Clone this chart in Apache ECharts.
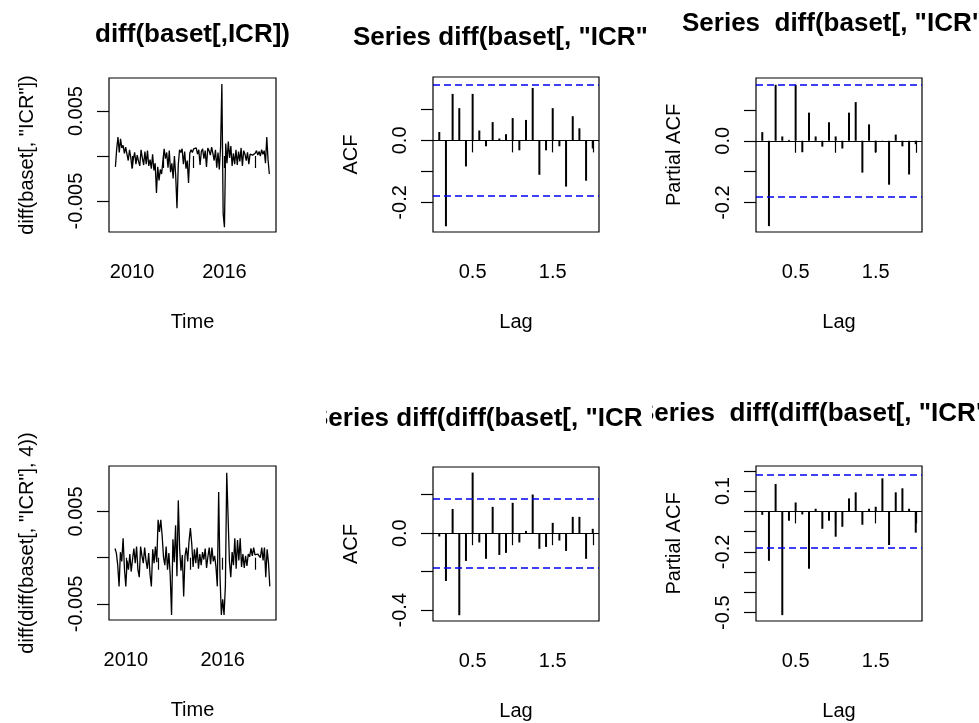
<!DOCTYPE html>
<html>
<head>
<meta charset="utf-8">
<title>diff(baset[,ICR]) ACF / PACF</title>
<script src="https://cdn.jsdelivr.net/npm/echarts@6/dist/echarts.min.js"></script>
<style>
  html, body { margin: 0; padding: 0; background: #fff; }
  #chart { width: 979px; height: 723px; }
</style>
</head>
<body>
<div id="chart"></div>
<script>
// monthly ts, first obs Dec 2008
const icrStart = 2008 + 11 / 12
const icrDiff = [
  -0.0012, 0.0008, 0.0021, 0.0004, 0.0019, 0.0009, 0.0012, 0.0003, 0.0010, 0.0002,
  -0.0005, 0.0007, -0.0002, -0.0014, -0.0003, 0.0004, -0.0009, 0.0001, -0.0006, -0.0011,
  0.0007, -0.0002, -0.0010, 0.0005, -0.0009, 0.0006, -0.0011, -0.0004, -0.0014, 0.0002,
  -0.0016, -0.0008, -0.0041, -0.0012, -0.0027, -0.0015, -0.0020, -0.0006, 0.0008, -0.0003,
  0.0004, -0.0013, 0.0006, -0.0018, -0.0008, -0.0025, 0.0000, -0.0022, -0.0058, -0.0010,
  0.0007, 0.0004, 0.0008, -0.0009, 0.0005, -0.0014, -0.0005, -0.0030, 0.0003, 0.0007,
  0.0004, 0.0008, 0.0006, 0.0009, 0.0002, 0.0007, -0.0010, 0.0005, 0.0008, -0.0003,
  0.0006, -0.0012, 0.0009, 0.0006, 0.0001, 0.0010, 0.0003, -0.0005, 0.0007, -0.0013,
  0.0004, -0.0015, 0.0010, 0.0080, -0.0064, -0.0079, 0.0014, -0.0008, 0.0016, -0.0002,
  0.0011, -0.0011, 0.0003, -0.0009, 0.0007, -0.0010, 0.0005, -0.0006, 0.0009, -0.0011,
  0.0006, 0.0002, -0.0005, 0.0004, -0.0009, 0.0002, 0.0000, 0.0001, 0.0000, 0.0003,
  0.0006, 0.0001, 0.0005, 0.0000, 0.0007, 0.0002, 0.0006, -0.0008, 0.0021, -0.0004,
  -0.0020
]

// diff(diff(x, 4)) starts 5 months later
const icrDiff2Start = 2009 + 4 / 12
const icrDiff2 = [
  0.0010, 0.0005, -0.0008, -0.0031, 0.0006, -0.0004, 0.0021, -0.0012, -0.0031, -0.0003,
  -0.0013, 0.0004, -0.0015, -0.0002, 0.0010, -0.0006, 0.0012, -0.0013, -0.0021, 0.0012,
  0.0002, -0.0006, 0.0011, -0.0003, -0.0012, 0.0005, -0.0018, -0.0031, 0.0009, -0.0006,
  0.0012, -0.0005, 0.0041, 0.0028, 0.0041, 0.0024, 0.0001, -0.0008, 0.0012, -0.0013,
  0.0005, -0.0019, -0.0062, 0.0020, -0.0005, 0.0035, -0.0020, 0.0062, 0.0010, -0.0014,
  0.0003, -0.0042, 0.0002, 0.0011, -0.0004, 0.0018, 0.0032, 0.0015, -0.0010, 0.0009,
  -0.0006, 0.0011, -0.0012, 0.0004, -0.0008, 0.0006, -0.0002, 0.0010, -0.0011, 0.0001,
  0.0011, -0.0007, 0.0011, -0.0004, 0.0002, -0.0010, -0.0031, 0.0071, -0.0020, -0.0062,
  -0.0045, -0.0062, -0.0030, 0.0092, 0.0044, -0.0004, -0.0021, 0.0006, -0.0008, 0.0021,
  -0.0012, 0.0019, -0.0003, 0.0021, -0.0010, 0.0004, -0.0011, 0.0002, -0.0009, 0.0004,
  0.0001, 0.0010, 0.0002, 0.0011, 0.0003, 0.0003, 0.0004, 0.0004, 0.0000, 0.0011,
  -0.0003, 0.0011, -0.0021, 0.0009, -0.0005, -0.0031
]

// lags 1..24 (in years, frequency 12)
const acfDiff = [0.027, -0.277, 0.150, 0.104, -0.084, 0.150, 0.032, -0.019, 0.059, 0.006, 0.020, 0.072,
  -0.032, 0.066, 0.169, -0.111, -0.032, 0.104, -0.019, -0.149, 0.078, 0.039, -0.130, -0.026]
const pacfDiff = [0.028, -0.276, 0.181, 0.014, 0.003, 0.181, -0.037, 0.091, 0.014, -0.019, 0.060, 0.014,
  -0.025, 0.091, 0.125, -0.103, 0.053, -0.037, -0.003, -0.142, 0.020, -0.018, -0.109, -0.011]
const acfDiff2 = [-0.017, -0.248, 0.126, -0.426, -0.144, 0.315, -0.048, -0.133, 0.137, -0.113, -0.102, 0.158,
  -0.048, 0.012, 0.201, -0.081, -0.071, 0.054, -0.038, -0.092, 0.085, 0.085, -0.133, 0.023]
const pacfDiff2 = [-0.017, -0.244, 0.135, -0.512, -0.046, 0.044, -0.015, -0.283, 0.013, -0.086, -0.046, -0.125,
  -0.076, 0.064, 0.094, -0.066, 0.013, 0.023, 0.163, -0.166, 0.094, 0.114, 0.013, -0.105]

const yearTicks = [2010, 2012, 2014, 2016, 2018]
const yearLabels = [2010, 2016]
const lagTicks = [0.5, 1, 1.5, 2]
const lagLabels = [0.5, 1.5]

const font = '"Liberation Sans", Arial, Helvetica, sans-serif'
const axisText = { fontFamily: font, fontSize: 20, color: '#000' }

const monthly = (start, values) => values.map((v, i) => [start + i / 12, v])
const lagged = values => values.map((v, i) => [(i + 1) / 12, v])
const ciOf = n => 1.959964 / Math.sqrt(n)
const fmtTs = v => String(v)
const fmtAcf = v => v.toFixed(1)

const panels = [
  { box: [109, 78, 167, 154], x: [2008.5, 2019.35], y: [-0.00844, 0.00867],
    xTicks: yearTicks, xLabels: yearLabels, yTicks: [-0.005, 0, 0.005], yLabels: [-0.005, 0.005], fmt: fmtTs,
    xName: 'Time', yName: 'diff(baset[, "ICR"])', line: monthly(icrStart, icrDiff) },
  { box: [433, 77, 166, 155], x: [0.005, 2.078], y: [-0.2955, 0.2045],
    xTicks: lagTicks, xLabels: lagLabels, yTicks: [-0.2, -0.1, 0, 0.1], yLabels: [-0.2, 0], fmt: fmtAcf,
    xName: 'Lag', yName: 'ACF', bars: lagged(acfDiff), ci: ciOf(icrDiff.length) },
  { box: [756, 78, 166, 154], x: [0.005, 2.078], y: [-0.295, 0.203],
    xTicks: lagTicks, xLabels: lagLabels, yTicks: [-0.2, -0.1, 0, 0.1], yLabels: [-0.2, 0], fmt: fmtAcf,
    xName: 'Lag', yName: 'Partial ACF', bars: lagged(pacfDiff), ci: ciOf(icrDiff.length) },
  { box: [109, 466, 167, 154], x: [2008.96, 2019.3], y: [-0.00674, 0.00992],
    xTicks: yearTicks, xLabels: yearLabels, yTicks: [-0.005, 0, 0.005], yLabels: [-0.005, 0.005], fmt: fmtTs,
    xName: 'Time', yName: 'diff(diff(baset[, "ICR"], 4))', line: monthly(icrDiff2Start, icrDiff2) },
  { box: [433, 467, 166, 154], x: [0.005, 2.078], y: [-0.456, 0.344],
    xTicks: lagTicks, xLabels: lagLabels, yTicks: [-0.4, -0.2, 0, 0.2], yLabels: [-0.4, 0], fmt: fmtAcf,
    xName: 'Lag', yName: 'ACF', bars: lagged(acfDiff2), ci: ciOf(icrDiff2.length) },
  { box: [756, 466, 166, 155], x: [0.005, 2.078], y: [-0.541, 0.224],
    xTicks: lagTicks, xLabels: lagLabels, yTicks: [-0.5, -0.4, -0.3, -0.2, -0.1, 0, 0.1, 0.2], yLabels: [-0.5, -0.2, 0.1], fmt: fmtAcf,
    xName: 'Lag', yName: 'Partial ACF', bars: lagged(pacfDiff2), ci: ciOf(icrDiff2.length) }
]

const chart = echarts.init(document.getElementById('chart'))

const series = panels.map((p, i) => {
  if (p.line) {
    return {
      type: 'line', xAxisIndex: i, yAxisIndex: i, data: p.line,
      symbol: 'none', lineStyle: { color: '#000', width: 1.3 }, silent: true
    }
  }
  const ciLine = { color: '#0000f0', type: [7, 4], width: 1.6 }
  return {
    type: 'bar', xAxisIndex: i, yAxisIndex: i, data: p.bars,
    barWidth: 2, itemStyle: { color: '#000' }, silent: true,
    markLine: {
      silent: true, symbol: ['none', 'none'], label: { show: false },
      data: [
        { yAxis: 0, lineStyle: { color: '#000', type: 'solid', width: 1.2 } },
        { yAxis: p.ci, lineStyle: ciLine },
        { yAxis: -p.ci, lineStyle: ciLine }
      ]
    }
  }
})

// titles: R clips them to the figure region, masks do the same here
const titleFont = 'bold 26px ' + font
const title = (text, x, y, z) => ({
  type: 'text', x, y, z,
  style: { text, font: titleFont, fill: '#000', align: 'left', verticalAlign: 'middle' }
})
const mask = (x, y, w, h, z) => ({
  type: 'rect', z, shape: { x, y, width: w, height: h }, style: { fill: '#fff' }
})

chart.setOption({
  animation: false,
  backgroundColor: '#fff',
  grid: panels.map(p => ({
    left: p.box[0], top: p.box[1], width: p.box[2], height: p.box[3],
    show: true, borderColor: '#000', borderWidth: 1.2, containLabel: false
  })),
  xAxis: panels.map((p, i) => ({
    type: 'value', gridIndex: i, min: p.x[0], max: p.x[1],
    name: p.xName, nameLocation: 'middle', nameGap: 80, nameTextStyle: axisText,
    axisLine: { show: false },
    axisTick: { show: true, length: 12, customValues: p.xTicks, lineStyle: { color: '#000', width: 1.2 } },
    axisLabel: { customValues: p.xLabels, margin: 30, formatter: v => String(v), ...axisText },
    splitLine: { show: false }
  })),
  yAxis: panels.map((p, i) => ({
    type: 'value', gridIndex: i, min: p.y[0], max: p.y[1],
    name: p.yName, nameLocation: 'middle', nameGap: 72, nameTextStyle: axisText,
    axisLine: { show: false },
    axisTick: { show: true, length: 12, customValues: p.yTicks, lineStyle: { color: '#000', width: 1.2 } },
    axisLabel: { customValues: p.yLabels, margin: 23, rotate: 90, formatter: p.fmt, ...axisText },
    splitLine: { show: false }
  })),
  series,
  graphic: [
    title('diff(baset[,ICR])', 95, 35, 10),
    title('Series diff(baset[, "ICR"', 353, 38, 10),
    title('Series  diff(baset[, "ICR"])', 682, 24, 10),
    title('Series  diff(diff(baset[, "ICR"], 4))', 637, 414, 10),
    mask(600, 390, 52, 50, 11),
    title('Series diff(diff(baset[, "ICR', 311, 419, 12),
    mask(250, 390, 76, 55, 13)
  ]
})
</script>
</body>
</html>
